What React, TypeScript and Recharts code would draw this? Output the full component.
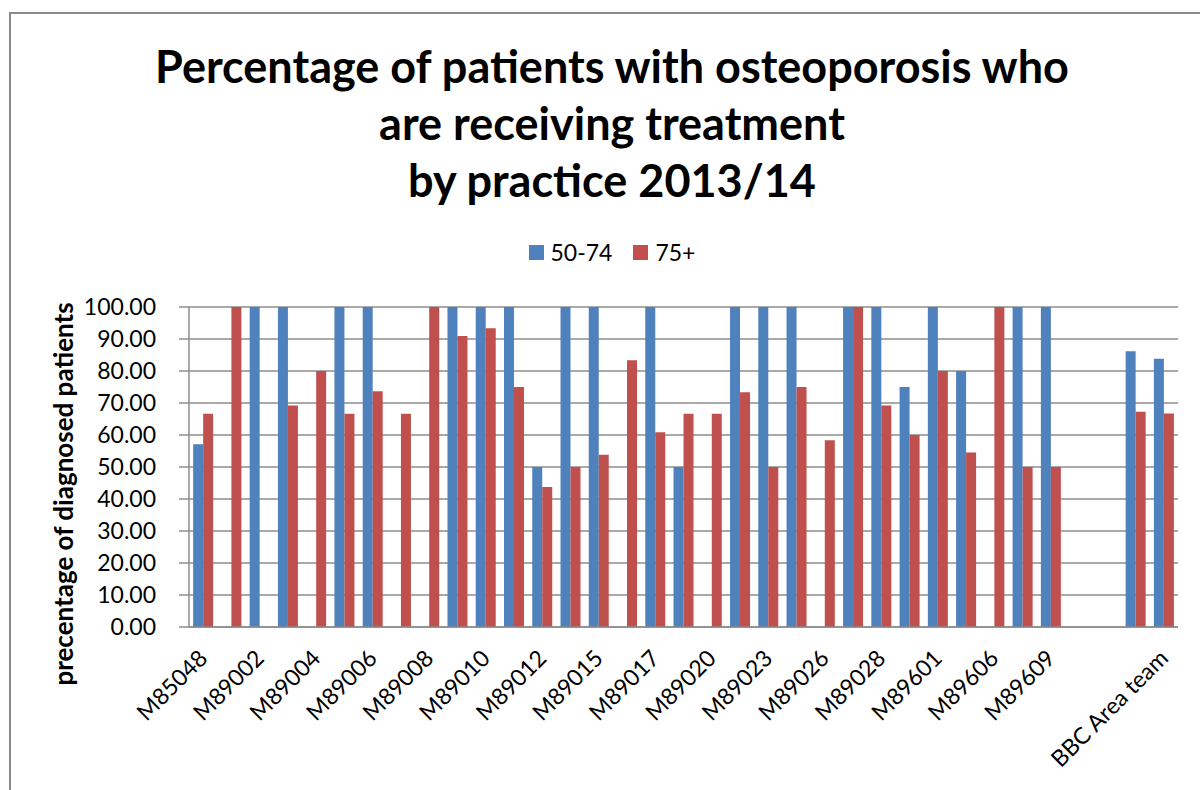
import { Bar, BarChart, CartesianGrid, Legend, XAxis, YAxis } from "recharts";

// practice codes; the unlabelled rows are the ones Excel skipped on the axis
const practices = [
  "M85048", "M89001", "M89002", "M89003", "M89004", "M89005", "M89006", "M89007",
  "M89008", "M89009", "M89010", "M89011", "M89012", "M89013", "M89015", "M89016",
  "M89017", "M89018", "M89020", "M89021", "M89023", "M89024", "M89026", "M89027",
  "M89028", "M89029", "M89601", "M89602", "M89606", "M89608", "M89609", " ",
  "", "CCG", "BBC Area team",
];

const ages5074 = [
  57.14, 0, 100, 100, 0, 100, 100, 0,
  0, 100, 100, 100, 50, 100, 100, 0,
  100, 50, 0, 100, 100, 100, 0, 100,
  100, 75, 100, 80, 0, 100, 100, null,
  null, 86.2, 83.8,
];

const ages75plus = [
  66.67, 100, 0, 69.23, 80, 66.67, 73.68, 66.67,
  100, 90.91, 93.33, 75, 43.75, 50, 53.85, 83.33,
  60.87, 66.67, 66.67, 73.33, 50, 75, 58.33, 100,
  69.23, 60, 80, 54.55, 100, 50, 50, null,
  null, 67.3, 66.7,
];

const yTicks = [0, 10, 20, 30, 40, 50, 60, 70, 80, 90, 100];

const seriesNames = ["50-74", "75+"];
const colors = ["#4F81BD", "#C0504D"];

const rows = practices.map((code, i) => ({
  code,
  young: ages5074[i],
  old: ages75plus[i],
}));

const gridColor = "#8c8c8c";

function PracticeTick({ x, y, payload }: any) {
  const ty = y + 27;
  return (
    <text
      x={x}
      y={ty}
      dy="0.35em"
      textAnchor="end"
      fontSize={23}
      fill="#000"
      transform={`rotate(-45, ${x}, ${ty})`}
    >
      {payload.value}
    </text>
  );
}

function LegendRow() {
  return (
    <div style={{ display: "flex", justifyContent: "center", gap: 21, fontSize: 23 }}>
      {seriesNames.map((name, i) => (
        <div key={name} style={{ display: "flex", alignItems: "center", gap: 7 }}>
          <span style={{ width: 15, height: 15, background: colors[i], display: "inline-block" }} />
          <span>{name}</span>
        </div>
      ))}
    </div>
  );
}

export default function App() {
  return (
    <div
      style={{
        position: "absolute",
        left: 0,
        top: 0,
        width: 1200,
        height: 790,
        overflow: "hidden",
        background: "#fff",
        fontFamily: "Lato, sans-serif",
        color: "#000",
      }}
    >
      <div
        style={{
          position: "absolute",
          left: 9,
          top: 12,
          width: 1300,
          height: 900,
          border: "2px solid #8a8a8a",
        }}
      />
      <div
        style={{
          position: "absolute",
          left: 0,
          top: 38,
          width: 1224,
          textAlign: "center",
          fontSize: 45,
          fontWeight: 700,
          lineHeight: "57px",
        }}
      >
        Percentage of patients with osteoporosis who
        <br />
        are receiving treatment
        <br />
        by practice 2013/14
      </div>
      <div
        style={{
          position: "absolute",
          left: 63,
          top: 494,
          transform: "translate(-50%, -50%) rotate(-90deg)",
          whiteSpace: "nowrap",
          fontSize: 26,
          fontWeight: 700,
        }}
      >
        precentage of diagnosed patients
      </div>
      <div style={{ position: "absolute", left: 0, top: 0 }}>
        <BarChart
          width={1200}
          height={790}
          data={rows}
          margin={{ top: 307, right: 22, left: 0, bottom: 33 }}
          barCategoryGap="14.7%"
          barGap={0}
        >
          <CartesianGrid vertical={false} stroke={gridColor} strokeWidth={1.5} />
          <XAxis
            dataKey="code"
            interval={1}
            tickLine={false}
            tickSize={0}
            tickMargin={0}
            axisLine={{ stroke: gridColor, strokeWidth: 1.5 }}
            height={130}
            tick={<PracticeTick />}
          />
          <YAxis
            width={189}
            domain={[0, 100]}
            ticks={yTicks}
            tickFormatter={(v: number) => v.toFixed(2)}
            tickSize={10}
            tickMargin={23}
            tickLine={{ stroke: gridColor, strokeWidth: 1.5 }}
            axisLine={{ stroke: gridColor, strokeWidth: 1.5 }}
            tick={{ fontSize: 23, fill: "#000" }}
          />
          <Legend
            layout="horizontal"
            verticalAlign="middle"
            align="center"
            wrapperStyle={{ top: 238, left: 12, width: 1200 }}
            content={<LegendRow />}
          />
          <Bar dataKey="young" name={seriesNames[0]} fill={colors[0]} isAnimationActive={false} />
          <Bar dataKey="old" name={seriesNames[1]} fill={colors[1]} isAnimationActive={false} />
        </BarChart>
      </div>
    </div>
  );
}
